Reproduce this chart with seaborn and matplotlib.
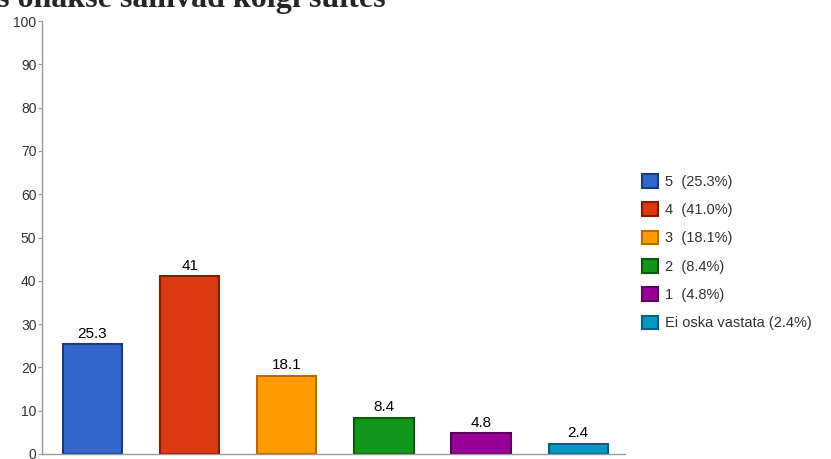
import matplotlib
matplotlib.use("Agg")
import matplotlib.pyplot as plt
import seaborn as sns
import pandas as pd

# values
categories = ["5", "4", "3", "2", "1", "Ei oska vastata"]
values = [25.3, 41.0, 18.1, 8.4, 4.8, 2.4]
value_labels = ["25.3", "41", "18.1", "8.4", "4.8", "2.4"]
legend_labels = ["5  (25.3%)", "4  (41.0%)", "3  (18.1%)", "2  (8.4%)",
                 "1  (4.8%)", "Ei oska vastata (2.4%)"]
colors = ["#3366cc", "#dc3912", "#ff9900", "#109618", "#990099", "#0099c6"]
edges = ["#1a3a80", "#8a1a05", "#b86a00", "#0a5a0d", "#5a005a", "#005f7c"]
y_ticks = list(range(0, 101, 10))
title = "s ohakse sallivad koigi suites"


def main():
    sns.set_style("white")
    plt.rcParams['font.family'] = ['Liberation Sans', 'DejaVu Sans']

    df = pd.DataFrame({"cat": categories, "val": values,
                       "leg": legend_labels})

    fig = plt.figure(figsize=(8.31, 4.59), dpi=100)
    ax = fig.add_axes([0.0505, 0.011, 0.7015, 0.943])

    sns.barplot(data=df, x="cat", y="val", hue="leg", palette=colors,
                saturation=1, dodge=False, width=0.61, ax=ax, legend=True,
                linewidth=1.5)
    for patch, ec in zip(ax.patches, edges):
        patch.set_edgecolor(ec)

    for i, (v, lab) in enumerate(zip(values, value_labels)):
        ax.text(i, v + 0.8, lab, ha="center", va="bottom", fontsize=11,
                color="black")

    ax.set_xlim(-0.52, 5.48)
    ax.set_ylim(0, 100)
    ax.set_yticks(y_ticks)
    ax.set_yticklabels([str(t) for t in y_ticks], fontsize=10, color="#333333")
    ax.set_xticks([])
    ax.set_xlabel("")
    ax.set_ylabel("")
    ax.tick_params(axis="y", length=3, width=0.8, color="#999999", pad=1,
                   left=True)
    for side in ["top", "right"]:
        ax.spines[side].set_visible(False)
    for side in ["left", "bottom"]:
        ax.spines[side].set_color("#999999")
        ax.spines[side].set_linewidth(1.0)

    leg = ax.legend(loc="upper left", bbox_to_anchor=(1.02, 0.66),
                    frameon=False, fontsize=10.5, handlelength=1.05,
                    handleheight=1.05, handletextpad=0.5, labelspacing=0.93,
                    borderaxespad=0, labelcolor="#333333")
    for h, ec in zip(leg.legend_handles, edges):
        h.set_edgecolor(ec)

    fig.text(-0.004, 0.985, title, fontfamily="Liberation Serif",
             fontweight="bold", fontsize=23, va="baseline", ha="left")

    fig.savefig("out.png", dpi=100)


if __name__ == "__main__":
    main()
